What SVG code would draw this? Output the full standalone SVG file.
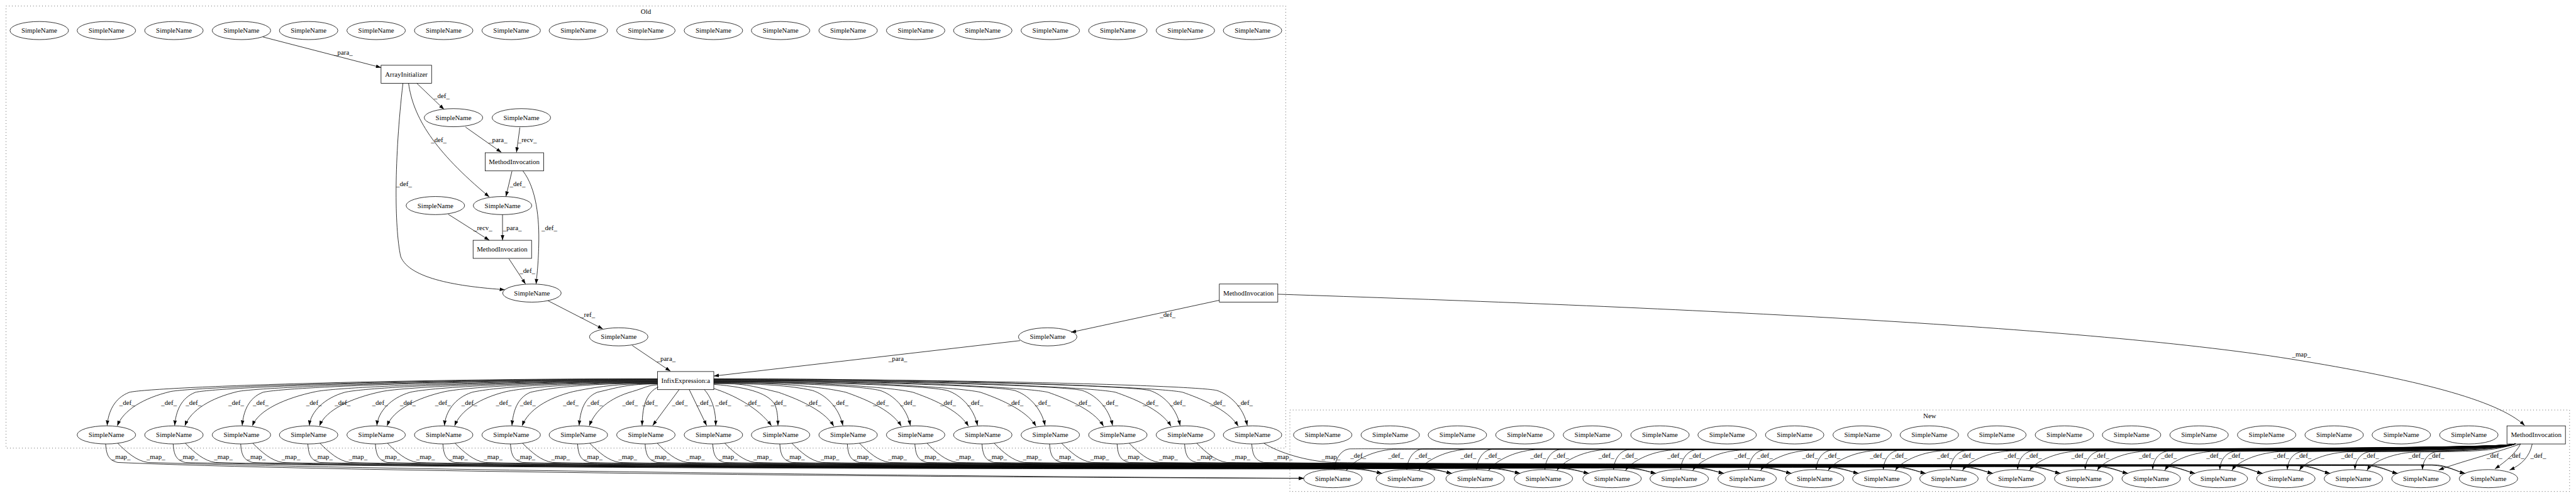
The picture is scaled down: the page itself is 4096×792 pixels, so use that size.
<svg xmlns="http://www.w3.org/2000/svg" width="4096" height="792" viewBox="0 0 4096 792">
<defs>
<marker id="ah" viewBox="0 0 14 10" refX="13.5" refY="5" markerWidth="14" markerHeight="10" markerUnits="userSpaceOnUse" orient="auto"><path d="M0,0.3 L13.5,5 L0,9.7 z" fill="#000"/></marker>
</defs>
<style>
text{font-family:"Liberation Serif","Times New Roman",serif;font-size:18.2px;text-anchor:middle;fill:#000}
.n ellipse,.n rect{fill:none;stroke:#000;stroke-width:1.33}
.cl{fill:none;stroke:#000;stroke-width:1.33;stroke-dasharray:1.33 6.67}
#edges path{fill:none;stroke:#000;stroke-width:1.33;marker-end:url(#ah)}
</style>
<rect width="4096" height="792" fill="#fff"/>
<g transform="scale(0.59988)">
<g id="clusters">
<rect class="cl" x="16" y="16" width="3392" height="1172"/>
<text x="1712" y="36">Old</text>
<rect class="cl" x="3419" y="1087" width="3392" height="216"/>
<text x="5115" y="1108">New</text>
</g>
<!-- Old top row -->
<g id="old-t0" class="n"><ellipse cx="104" cy="81" rx="77.5" ry="24"/><text x="104" y="87">SimpleName</text></g>
<g id="old-t1" class="n"><ellipse cx="282" cy="81" rx="77.5" ry="24"/><text x="282" y="87">SimpleName</text></g>
<g id="old-t2" class="n"><ellipse cx="461" cy="81" rx="77.5" ry="24"/><text x="461" y="87">SimpleName</text></g>
<g id="old-t3" class="n"><ellipse cx="640" cy="81" rx="77.5" ry="24"/><text x="640" y="87">SimpleName</text></g>
<g id="old-t4" class="n"><ellipse cx="818" cy="81" rx="77.5" ry="24"/><text x="818" y="87">SimpleName</text></g>
<g id="old-t5" class="n"><ellipse cx="997" cy="81" rx="77.5" ry="24"/><text x="997" y="87">SimpleName</text></g>
<g id="old-t6" class="n"><ellipse cx="1176" cy="81" rx="77.5" ry="24"/><text x="1176" y="87">SimpleName</text></g>
<g id="old-t7" class="n"><ellipse cx="1355" cy="81" rx="77.5" ry="24"/><text x="1355" y="87">SimpleName</text></g>
<g id="old-t8" class="n"><ellipse cx="1533" cy="81" rx="77.5" ry="24"/><text x="1533" y="87">SimpleName</text></g>
<g id="old-t9" class="n"><ellipse cx="1712" cy="81" rx="77.5" ry="24"/><text x="1712" y="87">SimpleName</text></g>
<g id="old-t10" class="n"><ellipse cx="1891" cy="81" rx="77.5" ry="24"/><text x="1891" y="87">SimpleName</text></g>
<g id="old-t11" class="n"><ellipse cx="2069" cy="81" rx="77.5" ry="24"/><text x="2069" y="87">SimpleName</text></g>
<g id="old-t12" class="n"><ellipse cx="2248" cy="81" rx="77.5" ry="24"/><text x="2248" y="87">SimpleName</text></g>
<g id="old-t13" class="n"><ellipse cx="2427" cy="81" rx="77.5" ry="24"/><text x="2427" y="87">SimpleName</text></g>
<g id="old-t14" class="n"><ellipse cx="2605" cy="81" rx="77.5" ry="24"/><text x="2605" y="87">SimpleName</text></g>
<g id="old-t15" class="n"><ellipse cx="2784" cy="81" rx="77.5" ry="24"/><text x="2784" y="87">SimpleName</text></g>
<g id="old-t16" class="n"><ellipse cx="2963" cy="81" rx="77.5" ry="24"/><text x="2963" y="87">SimpleName</text></g>
<g id="old-t17" class="n"><ellipse cx="3142" cy="81" rx="77.5" ry="24"/><text x="3142" y="87">SimpleName</text></g>
<g id="old-t18" class="n"><ellipse cx="3320" cy="81" rx="77.5" ry="24"/><text x="3320" y="87">SimpleName</text></g>
<!-- Old middle -->
<g id="old-arrayinit" class="n"><rect x="1010" y="173" width="134" height="48"/><text x="1077" y="203">ArrayInitializer</text></g>
<g id="old-sn-a" class="n"><ellipse cx="1202" cy="312" rx="77.5" ry="24"/><text x="1202" y="318">SimpleName</text></g>
<g id="old-sn-b" class="n"><ellipse cx="1382" cy="312" rx="77.5" ry="24"/><text x="1382" y="318">SimpleName</text></g>
<g id="old-mi1" class="n"><rect x="1286" y="405" width="155" height="48"/><text x="1363" y="435">MethodInvocation</text></g>
<g id="old-sn-c" class="n"><ellipse cx="1154" cy="545" rx="77.5" ry="24"/><text x="1154" y="551">SimpleName</text></g>
<g id="old-sn-d" class="n"><ellipse cx="1332" cy="545" rx="77.5" ry="24"/><text x="1332" y="551">SimpleName</text></g>
<g id="old-mi2" class="n"><rect x="1254" y="637" width="155" height="48"/><text x="1331" y="667">MethodInvocation</text></g>
<g id="old-sn-e" class="n"><ellipse cx="1410" cy="777" rx="77.5" ry="24"/><text x="1410" y="783">SimpleName</text></g>
<g id="old-sn-f" class="n"><ellipse cx="1640" cy="893" rx="77.5" ry="24"/><text x="1640" y="899">SimpleName</text></g>
<g id="old-infix" class="n"><rect x="1743" y="985" width="149" height="48"/><text x="1817.5" y="1015">InfixExpression:a</text></g>
<g id="old-sn-g" class="n"><ellipse cx="2777" cy="893" rx="77.5" ry="24"/><text x="2777" y="899">SimpleName</text></g>
<g id="old-mi3" class="n"><rect x="3232" y="753" width="155" height="48"/><text x="3309.5" y="783">MethodInvocation</text></g>
<!-- Old bottom row -->
<g id="old-b0" class="n"><ellipse cx="282" cy="1153" rx="77.5" ry="24"/><text x="282" y="1159">SimpleName</text></g>
<g id="old-b1" class="n"><ellipse cx="461" cy="1153" rx="77.5" ry="24"/><text x="461" y="1159">SimpleName</text></g>
<g id="old-b2" class="n"><ellipse cx="640" cy="1153" rx="77.5" ry="24"/><text x="640" y="1159">SimpleName</text></g>
<g id="old-b3" class="n"><ellipse cx="818" cy="1153" rx="77.5" ry="24"/><text x="818" y="1159">SimpleName</text></g>
<g id="old-b4" class="n"><ellipse cx="997" cy="1153" rx="77.5" ry="24"/><text x="997" y="1159">SimpleName</text></g>
<g id="old-b5" class="n"><ellipse cx="1176" cy="1153" rx="77.5" ry="24"/><text x="1176" y="1159">SimpleName</text></g>
<g id="old-b6" class="n"><ellipse cx="1355" cy="1153" rx="77.5" ry="24"/><text x="1355" y="1159">SimpleName</text></g>
<g id="old-b7" class="n"><ellipse cx="1533" cy="1153" rx="77.5" ry="24"/><text x="1533" y="1159">SimpleName</text></g>
<g id="old-b8" class="n"><ellipse cx="1712" cy="1153" rx="77.5" ry="24"/><text x="1712" y="1159">SimpleName</text></g>
<g id="old-b9" class="n"><ellipse cx="1891" cy="1153" rx="77.5" ry="24"/><text x="1891" y="1159">SimpleName</text></g>
<g id="old-b10" class="n"><ellipse cx="2069" cy="1153" rx="77.5" ry="24"/><text x="2069" y="1159">SimpleName</text></g>
<g id="old-b11" class="n"><ellipse cx="2248" cy="1153" rx="77.5" ry="24"/><text x="2248" y="1159">SimpleName</text></g>
<g id="old-b12" class="n"><ellipse cx="2427" cy="1153" rx="77.5" ry="24"/><text x="2427" y="1159">SimpleName</text></g>
<g id="old-b13" class="n"><ellipse cx="2605" cy="1153" rx="77.5" ry="24"/><text x="2605" y="1159">SimpleName</text></g>
<g id="old-b14" class="n"><ellipse cx="2784" cy="1153" rx="77.5" ry="24"/><text x="2784" y="1159">SimpleName</text></g>
<g id="old-b15" class="n"><ellipse cx="2963" cy="1153" rx="77.5" ry="24"/><text x="2963" y="1159">SimpleName</text></g>
<g id="old-b16" class="n"><ellipse cx="3142" cy="1153" rx="77.5" ry="24"/><text x="3142" y="1159">SimpleName</text></g>
<g id="old-b17" class="n"><ellipse cx="3320" cy="1153" rx="77.5" ry="24"/><text x="3320" y="1159">SimpleName</text></g>
<!-- New top row -->
<g id="new-t0" class="n"><ellipse cx="3506" cy="1153" rx="77.5" ry="24"/><text x="3506" y="1159">SimpleName</text></g>
<g id="new-t1" class="n"><ellipse cx="3685" cy="1153" rx="77.5" ry="24"/><text x="3685" y="1159">SimpleName</text></g>
<g id="new-t2" class="n"><ellipse cx="3863" cy="1153" rx="77.5" ry="24"/><text x="3863" y="1159">SimpleName</text></g>
<g id="new-t3" class="n"><ellipse cx="4042" cy="1153" rx="77.5" ry="24"/><text x="4042" y="1159">SimpleName</text></g>
<g id="new-t4" class="n"><ellipse cx="4221" cy="1153" rx="77.5" ry="24"/><text x="4221" y="1159">SimpleName</text></g>
<g id="new-t5" class="n"><ellipse cx="4400" cy="1153" rx="77.5" ry="24"/><text x="4400" y="1159">SimpleName</text></g>
<g id="new-t6" class="n"><ellipse cx="4578" cy="1153" rx="77.5" ry="24"/><text x="4578" y="1159">SimpleName</text></g>
<g id="new-t7" class="n"><ellipse cx="4757" cy="1153" rx="77.5" ry="24"/><text x="4757" y="1159">SimpleName</text></g>
<g id="new-t8" class="n"><ellipse cx="4936" cy="1153" rx="77.5" ry="24"/><text x="4936" y="1159">SimpleName</text></g>
<g id="new-t9" class="n"><ellipse cx="5114" cy="1153" rx="77.5" ry="24"/><text x="5114" y="1159">SimpleName</text></g>
<g id="new-t10" class="n"><ellipse cx="5293" cy="1153" rx="77.5" ry="24"/><text x="5293" y="1159">SimpleName</text></g>
<g id="new-t11" class="n"><ellipse cx="5472" cy="1153" rx="77.5" ry="24"/><text x="5472" y="1159">SimpleName</text></g>
<g id="new-t12" class="n"><ellipse cx="5650" cy="1153" rx="77.5" ry="24"/><text x="5650" y="1159">SimpleName</text></g>
<g id="new-t13" class="n"><ellipse cx="5829" cy="1153" rx="77.5" ry="24"/><text x="5829" y="1159">SimpleName</text></g>
<g id="new-t14" class="n"><ellipse cx="6008" cy="1153" rx="77.5" ry="24"/><text x="6008" y="1159">SimpleName</text></g>
<g id="new-t15" class="n"><ellipse cx="6187" cy="1153" rx="77.5" ry="24"/><text x="6187" y="1159">SimpleName</text></g>
<g id="new-t16" class="n"><ellipse cx="6365" cy="1153" rx="77.5" ry="24"/><text x="6365" y="1159">SimpleName</text></g>
<g id="new-t17" class="n"><ellipse cx="6544" cy="1153" rx="77.5" ry="24"/><text x="6544" y="1159">SimpleName</text></g>
<g id="new-mi" class="n"><rect x="6645" y="1129" width="155" height="48"/><text x="6722.5" y="1159">MethodInvocation</text></g>
<!-- New bottom row -->
<g id="new-b0" class="n"><ellipse cx="3533" cy="1269" rx="77.5" ry="24"/><text x="3533" y="1275">SimpleName</text></g>
<g id="new-b1" class="n"><ellipse cx="3725" cy="1269" rx="77.5" ry="24"/><text x="3725" y="1275">SimpleName</text></g>
<g id="new-b2" class="n"><ellipse cx="3910" cy="1269" rx="77.5" ry="24"/><text x="3910" y="1275">SimpleName</text></g>
<g id="new-b3" class="n"><ellipse cx="4091" cy="1269" rx="77.5" ry="24"/><text x="4091" y="1275">SimpleName</text></g>
<g id="new-b4" class="n"><ellipse cx="4273" cy="1269" rx="77.5" ry="24"/><text x="4273" y="1275">SimpleName</text></g>
<g id="new-b5" class="n"><ellipse cx="4451" cy="1269" rx="77.5" ry="24"/><text x="4451" y="1275">SimpleName</text></g>
<g id="new-b6" class="n"><ellipse cx="4631" cy="1269" rx="77.5" ry="24"/><text x="4631" y="1275">SimpleName</text></g>
<g id="new-b7" class="n"><ellipse cx="4810" cy="1269" rx="77.5" ry="24"/><text x="4810" y="1275">SimpleName</text></g>
<g id="new-b8" class="n"><ellipse cx="4988" cy="1269" rx="77.5" ry="24"/><text x="4988" y="1275">SimpleName</text></g>
<g id="new-b9" class="n"><ellipse cx="5166" cy="1269" rx="77.5" ry="24"/><text x="5166" y="1275">SimpleName</text></g>
<g id="new-b10" class="n"><ellipse cx="5344" cy="1269" rx="77.5" ry="24"/><text x="5344" y="1275">SimpleName</text></g>
<g id="new-b11" class="n"><ellipse cx="5523" cy="1269" rx="77.5" ry="24"/><text x="5523" y="1275">SimpleName</text></g>
<g id="new-b12" class="n"><ellipse cx="5702" cy="1269" rx="77.5" ry="24"/><text x="5702" y="1275">SimpleName</text></g>
<g id="new-b13" class="n"><ellipse cx="5880" cy="1269" rx="77.5" ry="24"/><text x="5880" y="1275">SimpleName</text></g>
<g id="new-b14" class="n"><ellipse cx="6059" cy="1269" rx="77.5" ry="24"/><text x="6059" y="1275">SimpleName</text></g>
<g id="new-b15" class="n"><ellipse cx="6238" cy="1269" rx="77.5" ry="24"/><text x="6238" y="1275">SimpleName</text></g>
<g id="new-b16" class="n"><ellipse cx="6417" cy="1269" rx="77.5" ry="24"/><text x="6417" y="1275">SimpleName</text></g>
<g id="new-b17" class="n"><ellipse cx="6596" cy="1269" rx="77.5" ry="24"/><text x="6596" y="1275">SimpleName</text></g>

<g id="edges">
<path d="M697,98 L1010,179"/>
<path d="M1105,221 L1177,290"/>
<path d="M1083,221 C1095,310 1150,400 1297,522"/>
<path d="M1068,221 C1045,420 1045,600 1062,680 C1085,740 1220,760 1338,768"/>
<path d="M1234,337 L1329,404"/>
<path d="M1378,338 L1369,404"/>
<path d="M1357,454 L1341,521"/>
<path d="M1386,453 C1422,500 1430,580 1428,650 C1427,700 1423,730 1421,753"/>
<path d="M1188,568 L1297,637"/>
<path d="M1332,569 L1332,637"/>
<path d="M1349,686 L1393,753"/>
<path d="M1452,797 L1598,872"/>
<path d="M1676,916 L1777,984"/>
<path d="M3232,796 L2839,881"/>
<path d="M2704,903 L1892,997"/>
<path d="M3387,780 C4300,810 5500,860 6073,952 C6400,1005 6620,1060 6692,1128"/>
<!-- Infix def edges -->
<path d="M1743,1004 C1043,1004 403,1026 343,1040 C303,1055 287,1092 284,1128"/>
<path d="M1743,1005 C1097,1005 512,1026 452,1038 C381,1055 327,1087 311,1129"/>
<path d="M1743,1006 C1130,1006 578,1026 518,1040 C479,1055 466,1092 463,1128"/>
<path d="M1743,1007 C1186,1007 690,1026 630,1038 C559,1055 506,1087 490,1129"/>
<path d="M1743,1008 C1220,1008 757,1026 697,1040 C658,1055 645,1092 642,1128"/>
<path d="M1743,1009 C1290,1009 898,1026 838,1038 C756,1055 685,1087 669,1129"/>
<path d="M1743,1010 C1328,1010 974,1026 914,1040 C860,1055 823,1092 820,1128"/>
<path d="M1743,1011 C1377,1011 1072,1026 1012,1038 C931,1055 863,1087 847,1129"/>
<path d="M1743,1012 C1415,1012 1147,1026 1087,1040 C1035,1055 1002,1092 999,1128"/>
<path d="M1743,1013 C1461,1013 1240,1026 1180,1038 C1104,1055 1042,1087 1026,1129"/>
<path d="M1743,1014 C1497,1014 1311,1026 1251,1040 C1205,1055 1181,1092 1178,1128"/>
<path d="M1743,1015 C1542,1015 1402,1026 1342,1038 C1273,1055 1221,1087 1205,1129"/>
<path d="M1743,1016 C1574,1016 1466,1026 1406,1040 C1370,1055 1360,1092 1357,1128"/>
<path d="M1743,1017 C1631,1017 1580,1026 1520,1038 C1451,1055 1400,1087 1384,1129"/>
<path d="M1743,1018 C1663,1018 1643,1026 1583,1040 C1547,1055 1538,1092 1535,1128"/>
<path d="M1743,1020 C1715,1022 1710,1028 1676,1038 C1616,1055 1578,1087 1562,1129"/>
<path d="M1745,1026 C1715,1040 1703,1070 1702,1128"/>
<path d="M1800,1033 L1730,1128"/>
<path d="M1827,1033 L1873,1128"/>
<path d="M1867,1033 C1882,1050 1898,1080 1897,1128"/>
<path d="M1892,1030 C1940,1045 2010,1080 2045,1129"/>
<path d="M1892,1019 C1990,1027 2040,1045 2055,1075 C2061,1092 2062,1110 2062,1128"/>
<path d="M1892,1016 C1978,1016 2003,1026 2063,1040 C2103,1054 2183,1084 2210,1130"/>
<path d="M1892,1017 C2022,1017 2093,1022 2153,1035 C2188,1046 2224,1080 2234,1128"/>
<path d="M1892,1014 C2067,1014 2182,1026 2242,1040 C2282,1054 2362,1084 2389,1130"/>
<path d="M1892,1015 C2112,1015 2272,1022 2332,1035 C2367,1046 2403,1080 2413,1128"/>
<path d="M1892,1012 C2156,1012 2360,1026 2420,1040 C2460,1054 2540,1084 2567,1130"/>
<path d="M1892,1013 C2201,1013 2450,1022 2510,1035 C2545,1046 2581,1080 2591,1128"/>
<path d="M1892,1010 C2246,1010 2539,1026 2599,1040 C2639,1054 2719,1084 2746,1130"/>
<path d="M1892,1011 C2290,1011 2629,1022 2689,1035 C2724,1046 2760,1080 2770,1128"/>
<path d="M1892,1008 C2335,1008 2718,1026 2778,1040 C2818,1054 2898,1084 2925,1130"/>
<path d="M1892,1009 C2380,1009 2808,1022 2868,1035 C2903,1046 2939,1080 2949,1128"/>
<path d="M1892,1006 C2425,1006 2897,1026 2957,1040 C2997,1054 3077,1084 3104,1130"/>
<path d="M1892,1007 C2470,1007 2987,1022 3047,1035 C3082,1046 3118,1080 3128,1128"/>
<path d="M1892,1004 C2514,1004 3075,1026 3135,1040 C3175,1054 3255,1084 3282,1130"/>
<path d="M1892,1005 C2558,1005 3165,1022 3225,1035 C3260,1046 3296,1080 3306,1128"/>
<!-- map edges old bottom -> new bottom -->
<path d="M280,1177 C282,1205 287,1220 312,1226 C900,1252 2600,1266 3456,1268"/>
<path d="M312,1175 C337,1200 362,1222 392,1226 C1000,1246 2600,1264 3456,1268"/>
<path d="M459,1177 c2,28 7,43 32,49 C1061,1243.4 3225,1243.4 3575,1243.4 c40,0 65,6.6 88,11.6"/>
<path d="M491,1175 c25,25 50,47 80,51 C1061,1241.4 3225,1241.4 3575,1241.4 c40,0 65,8.6 88,13.6"/>
<path d="M638,1177 c2,28 7,43 32,49 C1240,1242.8 3410,1242.8 3760,1242.8 c40,0 65,7.2 88,12.2"/>
<path d="M670,1175 c25,25 50,47 80,51 C1240,1240.8 3410,1240.8 3760,1240.8 c40,0 65,9.2 88,14.2"/>
<path d="M816,1177 c2,28 7,43 32,49 C1418,1242.2 3591,1242.2 3941,1242.2 c40,0 65,7.8 88,12.8"/>
<path d="M848,1175 c25,25 50,47 80,51 C1418,1240.2 3591,1240.2 3941,1240.2 c40,0 65,9.8 88,14.8"/>
<path d="M995,1177 c2,28 7,43 32,49 C1597,1241.6 3773,1241.6 4123,1241.6 c40,0 65,8.4 88,13.4"/>
<path d="M1027,1175 c25,25 50,47 80,51 C1597,1239.6 3773,1239.6 4123,1239.6 c40,0 65,10.4 88,15.4"/>
<path d="M1174,1177 c2,28 7,43 32,49 C1776,1241 3951,1241 4301,1241 c40,0 65,9 88,14"/>
<path d="M1206,1175 c25,25 50,47 80,51 C1776,1239 3951,1239 4301,1239 c40,0 65,11 88,16"/>
<path d="M1353,1177 c2,28 7,43 32,49 C1955,1240.4 4131,1240.4 4481,1240.4 c40,0 65,9.6 88,14.6"/>
<path d="M1385,1175 c25,25 50,47 80,51 C1955,1238.4 4131,1238.4 4481,1238.4 c40,0 65,11.6 88,16.6"/>
<path d="M1531,1177 c2,28 7,43 32,49 C2133,1239.8 4310,1239.8 4660,1239.8 c40,0 65,10.2 88,15.2"/>
<path d="M1563,1175 c25,25 50,47 80,51 C2133,1237.8 4310,1237.8 4660,1237.8 c40,0 65,12.2 88,17.2"/>
<path d="M1710,1177 c2,28 7,43 32,49 C2312,1239.2 4488,1239.2 4838,1239.2 c40,0 65,10.8 88,15.8"/>
<path d="M1742,1175 c25,25 50,47 80,51 C2312,1237.2 4488,1237.2 4838,1237.2 c40,0 65,12.8 88,17.8"/>
<path d="M1889,1177 c2,28 7,43 32,49 C2491,1238.6 4666,1238.6 5016,1238.6 c40,0 65,11.4 88,16.4"/>
<path d="M1921,1175 c25,25 50,47 80,51 C2491,1236.6 4666,1236.6 5016,1236.6 c40,0 65,13.4 88,18.4"/>
<path d="M2067,1177 c2,28 7,43 32,49 C2669,1238 4844,1238 5194,1238 c40,0 65,12 88,17"/>
<path d="M2099,1175 c25,25 50,47 80,51 C2669,1236 4844,1236 5194,1236 c40,0 65,14 88,19"/>
<path d="M2246,1177 c2,28 7,43 32,49 C2848,1237.4 5023,1237.4 5373,1237.4 c40,0 65,12.6 88,17.6"/>
<path d="M2278,1175 c25,25 50,47 80,51 C2848,1235.4 5023,1235.4 5373,1235.4 c40,0 65,14.6 88,19.6"/>
<path d="M2425,1177 c2,28 7,43 32,49 C3027,1236.8 5202,1236.8 5552,1236.8 c40,0 65,13.2 88,18.2"/>
<path d="M2457,1175 c25,25 50,47 80,51 C3027,1234.8 5202,1234.8 5552,1234.8 c40,0 65,15.2 88,20.2"/>
<path d="M2603,1177 c2,28 7,43 32,49 C3205,1236.2 5380,1236.2 5730,1236.2 c40,0 65,13.8 88,18.8"/>
<path d="M2635,1175 c25,25 50,47 80,51 C3205,1234.2 5380,1234.2 5730,1234.2 c40,0 65,15.8 88,20.8"/>
<path d="M2782,1177 c2,28 7,43 32,49 C3384,1235.6 5559,1235.6 5909,1235.6 c40,0 65,14.4 88,19.4"/>
<path d="M2814,1175 c25,25 50,47 80,51 C3384,1233.6 5559,1233.6 5909,1233.6 c40,0 65,16.4 88,21.4"/>
<path d="M2961,1177 c2,28 7,43 32,49 C3563,1235 5738,1235 6088,1235 c40,0 65,15 88,20"/>
<path d="M2993,1175 c25,25 50,47 80,51 C3563,1233 5738,1233 6088,1233 c40,0 65,17 88,22"/>
<path d="M3140,1177 c2,28 7,43 32,49 C3742,1234.4 5917,1234.4 6267,1234.4 c40,0 65,15.6 88,20.6"/>
<path d="M3172,1175 c25,25 50,47 80,51 C3742,1232.4 5917,1232.4 6267,1232.4 c40,0 65,17.6 88,22.6"/>
<path d="M3318,1177 c2,28 7,43 32,49 C3920,1233.8 6096,1233.8 6446,1233.8 c40,0 65,16.2 88,21.2"/>
<path d="M3350,1175 c40,25 110,47 180,51 C3920,1231.8 6096,1231.8 6446,1231.8 c40,0 65,18.2 88,23.2"/>
<!-- New MI def edges -->
<path d="M6668,1177 C6600,1198 3733,1188 3578,1190 c-25,2 -40,30 -41,55"/>
<path d="M6668,1177 C6600,1198 3853,1189 3693,1191 c-60,4 -110,34 -124,56"/>
<path d="M6668,1177 C6600,1198 3925,1188.5 3770,1190.5 c-25,2 -40,29.5 -41,54.5"/>
<path d="M6668,1177 C6600,1198 4045,1189.5 3885,1191.5 c-60,4 -110,33.5 -124,55.5"/>
<path d="M6668,1177 C6600,1198 4110,1189 3955,1191 c-25,2 -40,29 -41,54"/>
<path d="M6668,1177 C6600,1198 4230,1190 4070,1192 c-60,4 -110,33 -124,55"/>
<path d="M6668,1177 C6600,1198 4291,1189.5 4136,1191.5 c-25,2 -40,28.5 -41,53.5"/>
<path d="M6668,1177 C6600,1198 4411,1190.5 4251,1192.5 c-60,4 -110,32.5 -124,54.5"/>
<path d="M6668,1177 C6600,1198 4473,1190 4318,1192 c-25,2 -40,28 -41,53"/>
<path d="M6668,1177 C6600,1198 4593,1191 4433,1193 c-60,4 -110,32 -124,54"/>
<path d="M6668,1177 C6600,1198 4651,1190.5 4496,1192.5 c-25,2 -40,27.5 -41,52.5"/>
<path d="M6668,1177 C6600,1198 4771,1191.5 4611,1193.5 c-60,4 -110,31.5 -124,53.5"/>
<path d="M6668,1177 C6600,1198 4831,1191 4676,1193 c-25,2 -40,27 -41,52"/>
<path d="M6668,1177 C6600,1198 4951,1192 4791,1194 c-60,4 -110,31 -124,53"/>
<path d="M6668,1177 C6600,1198 5010,1191.5 4855,1193.5 c-25,2 -40,26.5 -41,51.5"/>
<path d="M6668,1177 C6600,1198 5130,1192.5 4970,1194.5 c-60,4 -110,30.5 -124,52.5"/>
<path d="M6668,1177 C6600,1198 5188,1192 5033,1194 c-25,2 -40,26 -41,51"/>
<path d="M6668,1177 C6600,1198 5308,1193 5148,1195 c-60,4 -110,30 -124,52"/>
<path d="M6668,1177 C6600,1198 5366,1192.5 5211,1194.5 c-25,2 -40,25.5 -41,50.5"/>
<path d="M6668,1177 C6600,1198 5486,1193.5 5326,1195.5 c-60,4 -110,29.5 -124,51.5"/>
<path d="M6668,1177 C6600,1198 5544,1193 5389,1195 c-25,2 -40,25 -41,50"/>
<path d="M6668,1177 C6600,1198 5664,1194 5504,1196 c-60,4 -110,29 -124,51"/>
<path d="M6668,1177 C6600,1198 5723,1193.5 5568,1195.5 c-25,2 -40,24.5 -41,49.5"/>
<path d="M6668,1177 C6600,1198 5843,1194.5 5683,1196.5 c-60,4 -110,28.5 -124,50.5"/>
<path d="M6668,1177 C6600,1198 5902,1194 5747,1196 c-25,2 -40,24 -41,49"/>
<path d="M6668,1177 C6600,1198 6022,1195 5862,1197 c-60,4 -110,28 -124,50"/>
<path d="M6668,1177 C6600,1198 6080,1194.5 5925,1196.5 c-25,2 -40,23.5 -41,48.5"/>
<path d="M6668,1177 C6600,1198 6200,1195.5 6040,1197.5 c-60,4 -110,27.5 -124,49.5"/>
<path d="M6668,1177 C6600,1198 6259,1195 6104,1197 c-25,2 -40,23 -41,48"/>
<path d="M6668,1177 C6600,1198 6379,1196 6219,1198 c-60,4 -110,27 -124,49"/>
<path d="M6668,1177 C6600,1198 6438,1195.5 6283,1197.5 c-25,2 -40,22.5 -41,47.5"/>
<path d="M6668,1177 C6600,1198 6558,1196.5 6398,1198.5 c-60,4 -110,26.5 -124,48.5"/>
<path d="M6668,1177 C6630,1192 6500,1196 6462,1197 C6437,1199 6422,1220 6421,1245"/>
<path d="M6681,1177 C6600,1205 6520,1225 6464,1246"/>
<path d="M6681,1177 C6670,1200 6640,1225 6613,1243"/>
<path d="M6712,1177 C6705,1210 6685,1232 6652,1246"/>

<g id="edge-labels">
<text x="910" y="145">_para_</text>
<text x="1171" y="260">_def_</text>
<text x="1163" y="376">_def_</text>
<text x="1071" y="493">_def_</text>
<text x="1320" y="376">_para_</text>
<text x="1398" y="376">_recv_</text>
<text x="1372" y="493">_def_</text>
<text x="1456" y="610">_def_</text>
<text x="1280" y="610">_recv_</text>
<text x="1358" y="610">_para_</text>
<text x="1398" y="724">_def_</text>
<text x="1558" y="841">_ref_</text>
<text x="1766" y="957">_para_</text>
<text x="3095" y="841">_def_</text>
<text x="2380" y="957">_para_</text>
<text x="6100" y="946">_map_</text>
<!-- infix def labels -->
<text x="337" y="1073">_def_</text><text x="448" y="1073">_def_</text>
<text x="513" y="1073">_def_</text><text x="626" y="1073">_def_</text>
<text x="691" y="1073">_def_</text><text x="832" y="1073">_def_</text>
<text x="908" y="1073">_def_</text><text x="1007" y="1073">_def_</text>
<text x="1081" y="1073">_def_</text><text x="1174" y="1073">_def_</text>
<text x="1244" y="1073">_def_</text><text x="1335" y="1073">_def_</text>
<text x="1399" y="1073">_def_</text><text x="1513" y="1073">_def_</text>
<text x="1577" y="1073">_def_</text><text x="1670" y="1073">_def_</text>
<text x="1723" y="1073">_def_</text><text x="1802" y="1073">_def_</text>
<text x="1867" y="1073">_def_</text><text x="1917" y="1073">_def_</text>
<text x="1995" y="1073">_def_</text><text x="2064" y="1073">_def_</text>
<text x="2156" y="1073">_def_</text><text x="2228" y="1073">_def_</text>
<text x="2335" y="1073">_def_</text><text x="2407" y="1073">_def_</text>
<text x="2513" y="1073">_def_</text><text x="2585" y="1073">_def_</text>
<text x="2692" y="1073">_def_</text><text x="2764" y="1073">_def_</text>
<text x="2871" y="1073">_def_</text><text x="2943" y="1073">_def_</text>
<text x="3050" y="1073">_def_</text><text x="3122" y="1073">_def_</text>
<text x="3228" y="1073">_def_</text><text x="3300" y="1073">_def_</text>
<!-- map labels -->
<text x="321" y="1217">_map_</text><text x="413" y="1217">_map_</text>
<text x="500" y="1217">_map_</text><text x="592" y="1217">_map_</text>
<text x="679" y="1217">_map_</text><text x="771" y="1217">_map_</text>
<text x="857" y="1217">_map_</text><text x="949" y="1217">_map_</text>
<text x="1036" y="1217">_map_</text><text x="1128" y="1217">_map_</text>
<text x="1215" y="1217">_map_</text><text x="1307" y="1217">_map_</text>
<text x="1394" y="1217">_map_</text><text x="1486" y="1217">_map_</text>
<text x="1572" y="1217">_map_</text><text x="1664" y="1217">_map_</text>
<text x="1751" y="1217">_map_</text><text x="1843" y="1217">_map_</text>
<text x="1930" y="1217">_map_</text><text x="2022" y="1217">_map_</text>
<text x="2108" y="1217">_map_</text><text x="2200" y="1217">_map_</text>
<text x="2287" y="1217">_map_</text><text x="2379" y="1217">_map_</text>
<text x="2466" y="1217">_map_</text><text x="2558" y="1217">_map_</text>
<text x="2644" y="1217">_map_</text><text x="2736" y="1217">_map_</text>
<text x="2823" y="1217">_map_</text><text x="2915" y="1217">_map_</text>
<text x="3005" y="1217">_map_</text><text x="3097" y="1217">_map_</text>
<text x="3198" y="1217">_map_</text><text x="3289" y="1217">_map_</text>
<text x="3401" y="1217">_map_</text><text x="3528" y="1217">_map_</text>
<!-- new def labels -->
<text x="3600" y="1214">_def_</text><text x="3700" y="1214">_def_</text>
<text x="3772" y="1214">_def_</text><text x="3892" y="1214">_def_</text>
<text x="3957" y="1214">_def_</text><text x="4077" y="1214">_def_</text>
<text x="4138" y="1214">_def_</text><text x="4258" y="1214">_def_</text>
<text x="4320" y="1214">_def_</text><text x="4440" y="1214">_def_</text>
<text x="4498" y="1214">_def_</text><text x="4618" y="1214">_def_</text>
<text x="4678" y="1214">_def_</text><text x="4798" y="1214">_def_</text>
<text x="4857" y="1214">_def_</text><text x="4977" y="1214">_def_</text>
<text x="5035" y="1214">_def_</text><text x="5155" y="1214">_def_</text>
<text x="5213" y="1214">_def_</text><text x="5333" y="1214">_def_</text>
<text x="5391" y="1214">_def_</text><text x="5511" y="1214">_def_</text>
<text x="5570" y="1214">_def_</text><text x="5690" y="1214">_def_</text>
<text x="5749" y="1214">_def_</text><text x="5869" y="1214">_def_</text>
<text x="5927" y="1214">_def_</text><text x="6047" y="1214">_def_</text>
<text x="6106" y="1214">_def_</text><text x="6226" y="1214">_def_</text>
<text x="6285" y="1214">_def_</text><text x="6405" y="1214">_def_</text>
<text x="6458" y="1214">_def_</text><text x="6612" y="1214">_def_</text>
<text x="6670" y="1214">_def_</text><text x="6728" y="1214">_def_</text>
</g>
</g>
</g>
</svg>
